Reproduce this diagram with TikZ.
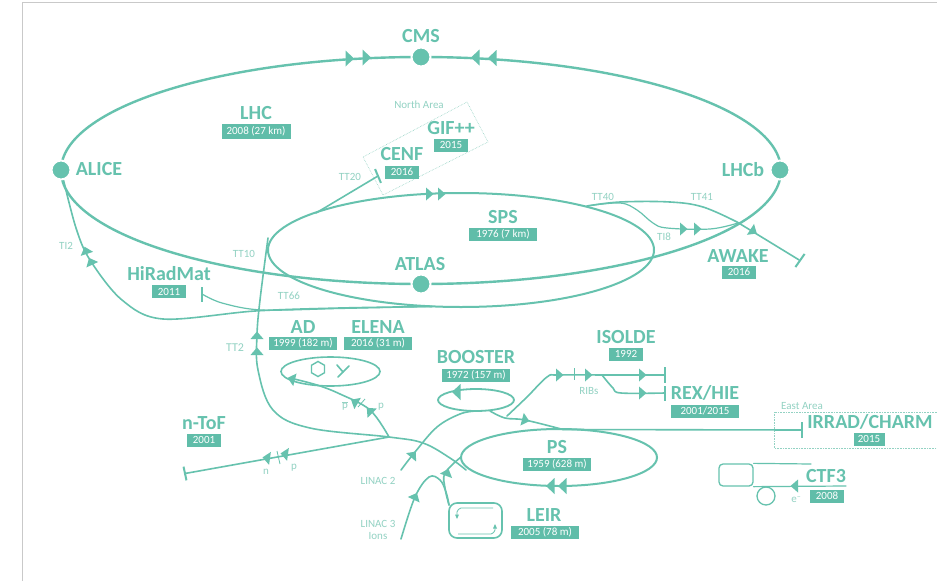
\documentclass[tikz,border=0pt]{standalone}
\usepackage{fontspec}
\setmainfont{Carlito}
\usetikzlibrary{shapes.geometric}
\definecolor{beam}{HTML}{66C2AE}
\definecolor{tagc}{HTML}{60BDA9}
\definecolor{soft}{HTML}{93D2C3}
\definecolor{framec}{HTML}{C9C9C9}
\tikzset{
  ring/.style={ellipse,draw=beam,inner sep=0pt,outer sep=0pt,line width=#1},
  ring/.default=2,
  station/.style={circle,fill=beam,draw=white,line width=2pt,minimum size=19pt,inner sep=0pt},
  name label/.style={text=beam,font=\fontsize{20}{21}\selectfont\bfseries,inner sep=0pt},
  tag/.style={fill=tagc,text=white,font=\fontsize{11}{12}\selectfont,inner sep=0pt,minimum height=13pt,minimum width=#1},
  tag/.default=68pt,
  small/.style={text=soft,font=\fontsize{11}{12}\selectfont,inner sep=0pt},
  thin beam/.style={draw=beam,line width=1.2pt,line cap=round},
  mid beam/.style={draw=beam,line width=1.6pt,line cap=round},
  hair beam/.style={draw=beam,line width=0.8pt},
  endbar/.style={fill=beam,inner sep=0pt,minimum width=2pt,minimum height=#1},
  area/.style={draw=soft,densely dotted,line width=0.6pt},
  hd/.pic={\fill[beam] (-3.5,-8) -- (5,0) -- (-3.5,8) -- cycle;},
  hds/.pic={\fill[beam] (-3,-6.5) -- (4.5,0) -- (-3,6.5) -- cycle;}
}
\begin{document}
\begin{tikzpicture}[x=1pt,y=-1pt]
\useasboundingbox (0,0) rectangle (937,581);
\fill[white] (0,0) rectangle (937,581);
\draw[framec,line width=1pt] (22.5,581) -- (22.5,2.5) -- (937,2.5);

% dotted experimental areas
\draw[area] (467,102) -- (488,142) -- (383,195) -- (363,157) -- cycle;
\draw[area] (937,412) -- (774,412) -- (774,448) -- (937,448);

% junction coordinates
\coordinate (aliceS) at (63,178);
\coordinate (tt2Top) at (268,238);
\coordinate (tt20J) at (316,213);
\coordinate (spsLow) at (432,306.5);
\coordinate (tt40J) at (587,206);
\coordinate (lhcEast) at (738,223);
\coordinate (psW) at (461,457);
\coordinate (psSW) at (466,470);
\coordinate (psN) at (563,429.5);
\coordinate (adJ) at (389,437);
\coordinate (b1) at (476,411);
\coordinate (b2) at (490,411);
\coordinate (b3) at (507,416);
\coordinate (leirNW) at (449,505);
\coordinate (splitR) at (602,375);
\coordinate (linacTwo) at (401,470);
\coordinate (linacThree) at (401,539);

% rings
\node[ring=2.4pt,minimum width=720pt,minimum height=227pt] (lhc) at (421,170.5) {};
\node[ring=2pt,minimum width=386pt,minimum height=114pt] (sps) at (461,250) {};
\node[ring=2pt,minimum width=196pt,minimum height=57pt] (ps) at (559,457.5) {};
\node[ring=1.8pt,minimum width=76pt,minimum height=22pt] (booster) at (476,400) {};
\node[ring=1.6pt,minimum width=99pt,minimum height=29pt] (adring) at (330.5,371.5) {};
\node[draw=beam,line width=1.6pt,rounded corners=8pt,minimum width=53pt,minimum height=35pt,inner sep=0pt] (leir) at (475.5,520.5) {};

% end bars
\node[endbar=15pt] (hiradBar) at (202,294) {};
\node[endbar=15pt,rotate=23] (cenfBar) at (378,176) {};
\node[endbar=16pt,rotate=-35] (awakeBar) at (800,260.5) {};
\node[endbar=14pt,rotate=12] (ntofBar) at (185,473.5) {};
\node[endbar=16pt] (isoldeBar) at (665,375) {};
\node[endbar=15pt] (rexBar) at (665,393) {};
\node[endbar=16pt] (irradBar) at (802,430) {};

% transfer lines
\draw[mid beam] plot[smooth,tension=0.55] coordinates {(aliceS) (76,228) (90,260) (122,300) (163,319) (255,311) (340,308) (spsLow)};
\draw[thin beam] plot[smooth,tension=0.55] coordinates {(hiradBar) (222,303) (262,310) (340,308.5) (spsLow)};
\draw[mid beam] (tt20J) -- (cenfBar);
\draw[mid beam] plot[smooth,tension=0.6] coordinates {(tt2Top) (260,300) (257,335) (258,370) (273,410) (310,428) (adJ) (423,443) (450,458) (psSW)};
\draw[mid beam] (ntofBar) -- (adJ);
\draw[mid beam] plot[smooth,tension=0.6] coordinates {(adJ) (370,410) (340,394) (317,385) (290,378)};
\draw[mid beam] plot[smooth,tension=0.6] coordinates {(tt40J) (620,202) (670,202) (703,207) (737,222)};
\draw[mid beam] (737,222) -- (awakeBar);
\draw[thin beam] plot[smooth,tension=0.6] coordinates {(tt40J) (620,203) (637,210) (653,223) (667,228) (710,229) (lhcEast)};
\draw[mid beam] plot[smooth,tension=0.6] coordinates {(linacTwo) (415,452) (437,427) (460,414) (b1)};
\draw[mid beam] plot[smooth,tension=0.6] coordinates {(linacThree) (415,497) (429,477) (440,480) (446,492) (leirNW)};
\draw[mid beam] plot[smooth,tension=0.6] coordinates {(leirNW) (445,488) (445,473) (psW)};
\draw[mid beam] plot[smooth,tension=0.6] coordinates {(b2) (505,418) (525,420) (psN)};
\draw[mid beam] plot[smooth,tension=0.6] coordinates {(b3) (527,397) (547,377) (558,375) (splitR)};
\draw[mid beam] (splitR) -- (isoldeBar);
\draw[mid beam] plot[smooth,tension=0.6] coordinates {(splitR) (613,388) (621,393) (rexBar)};
\draw[mid beam] (psN) -- (irradBar);

% CTF3
\coordinate (ctfTop) at (811,464);
\coordinate (ctfLow) at (846,486);
\node[draw=beam,line width=1.3pt,rounded corners=4pt,minimum width=34pt,minimum height=22pt,inner sep=0pt] (ctfbox) at (736,475) {};
\node[circle,draw=beam,line width=1.3pt,minimum size=18pt,inner sep=0pt] (ctfring) at (766,496) {};
\draw[thin beam] (ctfbox.north east) -- (ctfTop);
\draw[thin beam] (ctfbox.south east) -- (ctfLow);

% LEIR inner
\coordinate (li1) at (457,516);
\coordinate (li2) at (493,508);
\coordinate (li3) at (458,534);
\coordinate (li4) at (495,527);
\draw[hair beam] (li1) -- (457,512) to[bend left=30] (461,508) -- (li2);
\draw[hair beam] (li3) -- (491,534) to[bend right=30] (495,530) -- (li4);
\fill[beam] (457,519) -- (455,514.5) -- (459,514.5) -- cycle;
\fill[beam] (495,524) -- (493,528.5) -- (497,528.5) -- cycle;

% AD inner symbols
\node[regular polygon,regular polygon sides=6,draw=beam,line width=1.4pt,minimum size=15pt,inner sep=0pt,rotate=30] (hex) at (318,369) {};
\coordinate (ya) at (338,377);
\coordinate (yb) at (349,366);
\coordinate (yc) at (337,365);
\coordinate (yd) at (343,372);
\draw[mid beam] (ya) -- (yb);
\draw[mid beam] (yc) -- (yd);

% ticks
\coordinate (t1a) at (574,368); \coordinate (t1b) at (574,380);
\draw[hair beam] (t1a) -- (t1b);
\coordinate (t2a) at (277,451); \coordinate (t2b) at (280,464);
\draw[hair beam] (t2a) -- (t2b);
\coordinate (t3a) at (358,407); \coordinate (t3b) at (365,399);
\draw[hair beam] (t3a) -- (t3b);

% arrowheads
\pic at (349,58.5) {hd};
\pic at (366,57.5) {hd};
\pic[rotate=180] at (476,57.5) {hd};
\pic[rotate=180] at (493,58) {hd};
\pic at (429,194) {hds};
\pic at (441,194) {hds};
\pic[rotate=180] at (551,486) {hd};
\pic[rotate=180] at (563,486) {hd};
\pic[rotate=180] at (457,392) {hd};
\pic at (683,229) {hds};
\pic at (697,229) {hds};
\pic[rotate=-33] at (753,231) {hds};
\pic[rotate=108] at (86,251) {hds};
\pic[rotate=115] at (91,262) {hds};
\pic[rotate=90] at (257,336) {hds};
\pic[rotate=90] at (257,352) {hds};
\pic[rotate=172] at (267,458) {hds};
\pic[rotate=172] at (285,454) {hds};
\pic[rotate=135] at (370,411) {hds};
\pic[rotate=150] at (355,402) {hds};
\pic[rotate=165] at (292,379) {hds};
\pic[rotate=50] at (413,455) {hds};
\pic[rotate=65] at (415,497) {hds};
\pic[rotate=70] at (447,473) {hds};
\pic[rotate=-15] at (525,420) {hds};
\pic at (559,375) {hds};
\pic at (588,375) {hds};
\pic at (642,375) {hds};
\pic at (642,393) {hds};
\pic[rotate=180] at (795,486) {hds};

% stations
\node[station] (alice) at (61,170) {};
\node[station] (cms) at (421,57) {};
\node[station] (lhcb) at (780,170) {};
\node[station] (atlas) at (421,284) {};

% names and tags
\node[name label] (lblCms) at (421,36.5) {CMS};
\node[name label] (lblLhc) at (256,113) {LHC};
\node[tag=69pt,minimum height=15pt] (tagLhc) at (256,131) {2008 (27 km)};
\node[name label] (lblAlice) at (99,169.5) {ALICE};
\node[name label] (lblLhcb) at (743,170) {LHCb};
\node[name label] (lblAtlas) at (420,264) {ATLAS};
\node[name label] (lblSps) at (503,217) {SPS};
\node[tag] (tagSps) at (503,234) {1976 (7 km)};
\node[name label] (lblGif) at (451,128) {GIF++};
\node[tag=34pt] (tagGif) at (451,145) {2015};
\node[name label] (lblCenf) at (402,154.5) {CENF};
\node[tag=34pt] (tagCenf) at (402,172) {2016};
\node[name label] (lblAwake) at (738,256) {AWAKE};
\node[tag=34pt] (tagAwake) at (739,272) {2016};
\node[name label] (lblHirad) at (169,274) {HiRadMat};
\node[tag=34pt] (tagHirad) at (169,291.5) {2011};
\node[name label] (lblAd) at (303,327) {AD};
\node[tag] (tagAd) at (303,343) {1999 (182 m)};
\node[name label] (lblElena) at (378,327) {ELENA};
\node[tag] (tagElena) at (378,343) {2016 (31 m)};
\node[name label] (lblIsolde) at (626,337) {ISOLDE};
\node[tag=34pt] (tagIsolde) at (626,354) {1992};
\node[name label] (lblBooster) at (476,357) {BOOSTER};
\node[tag] (tagBooster) at (476,375) {1972 (157 m)};
\node[name label] (lblRex) at (705,393) {REX/HIE};
\node[tag] (tagRex) at (705,411) {2001/2015};
\node[name label] (lblIrrad) at (870,422) {IRRAD/CHARM};
\node[tag=31pt] (tagIrrad) at (869,439) {2015};
\node[name label] (lblPs) at (557,447) {PS};
\node[tag] (tagPs) at (557,464) {1959 (628 m)};
\node[name label] (lblCtf) at (826,476) {CTF3};
\node[tag=34pt] (tagCtf) at (827,496) {2008};
\node[name label] (lblLeir) at (544,515) {LEIR};
\node[tag] (tagLeir) at (545,532) {2005 (78 m)};
\node[name label] (lblNtof) at (204,423) {n-ToF};
\node[tag=34pt] (tagNtof) at (204,440) {2001};

% small labels
\node[small] (sNorth) at (419,105) {North Area};
\node[small] (sEast) at (802,406) {East Area};
\node[small] (sTT20) at (350,177) {TT20};
\node[small] (sTT10) at (244,254) {TT10};
\node[small] (sTT66) at (289,296) {TT66};
\node[small] (sTI2) at (66,246) {TI2};
\node[small] (sTT40) at (603,197) {TT40};
\node[small] (sTT41) at (702,197) {TT41};
\node[small] (sTI8) at (664,237) {TI8};
\node[small,font=\fontsize{12}{13}\selectfont] (sTT2) at (235,348) {TT2};
\node[small] (sPbar) at (345,406) {$\overline{\mbox{p}}$};
\node[small] (sP) at (381,407) {p};
\node[small] (sN) at (266,472) {n};
\node[small] (sP2) at (294,468) {p};
\node[small] (sLin2) at (378,481) {LINAC 2};
\node[small] (sLin3) at (378,524) {LINAC 3};
\node[small] (sIons) at (378,536) {Ions};
\node[small] (sRibs) at (589,391) {RIBs};
\node[small] (sE) at (796,500) {e\raisebox{3.5pt}{\fontsize{8}{8}\selectfont --}};
\end{tikzpicture}
\end{document}
